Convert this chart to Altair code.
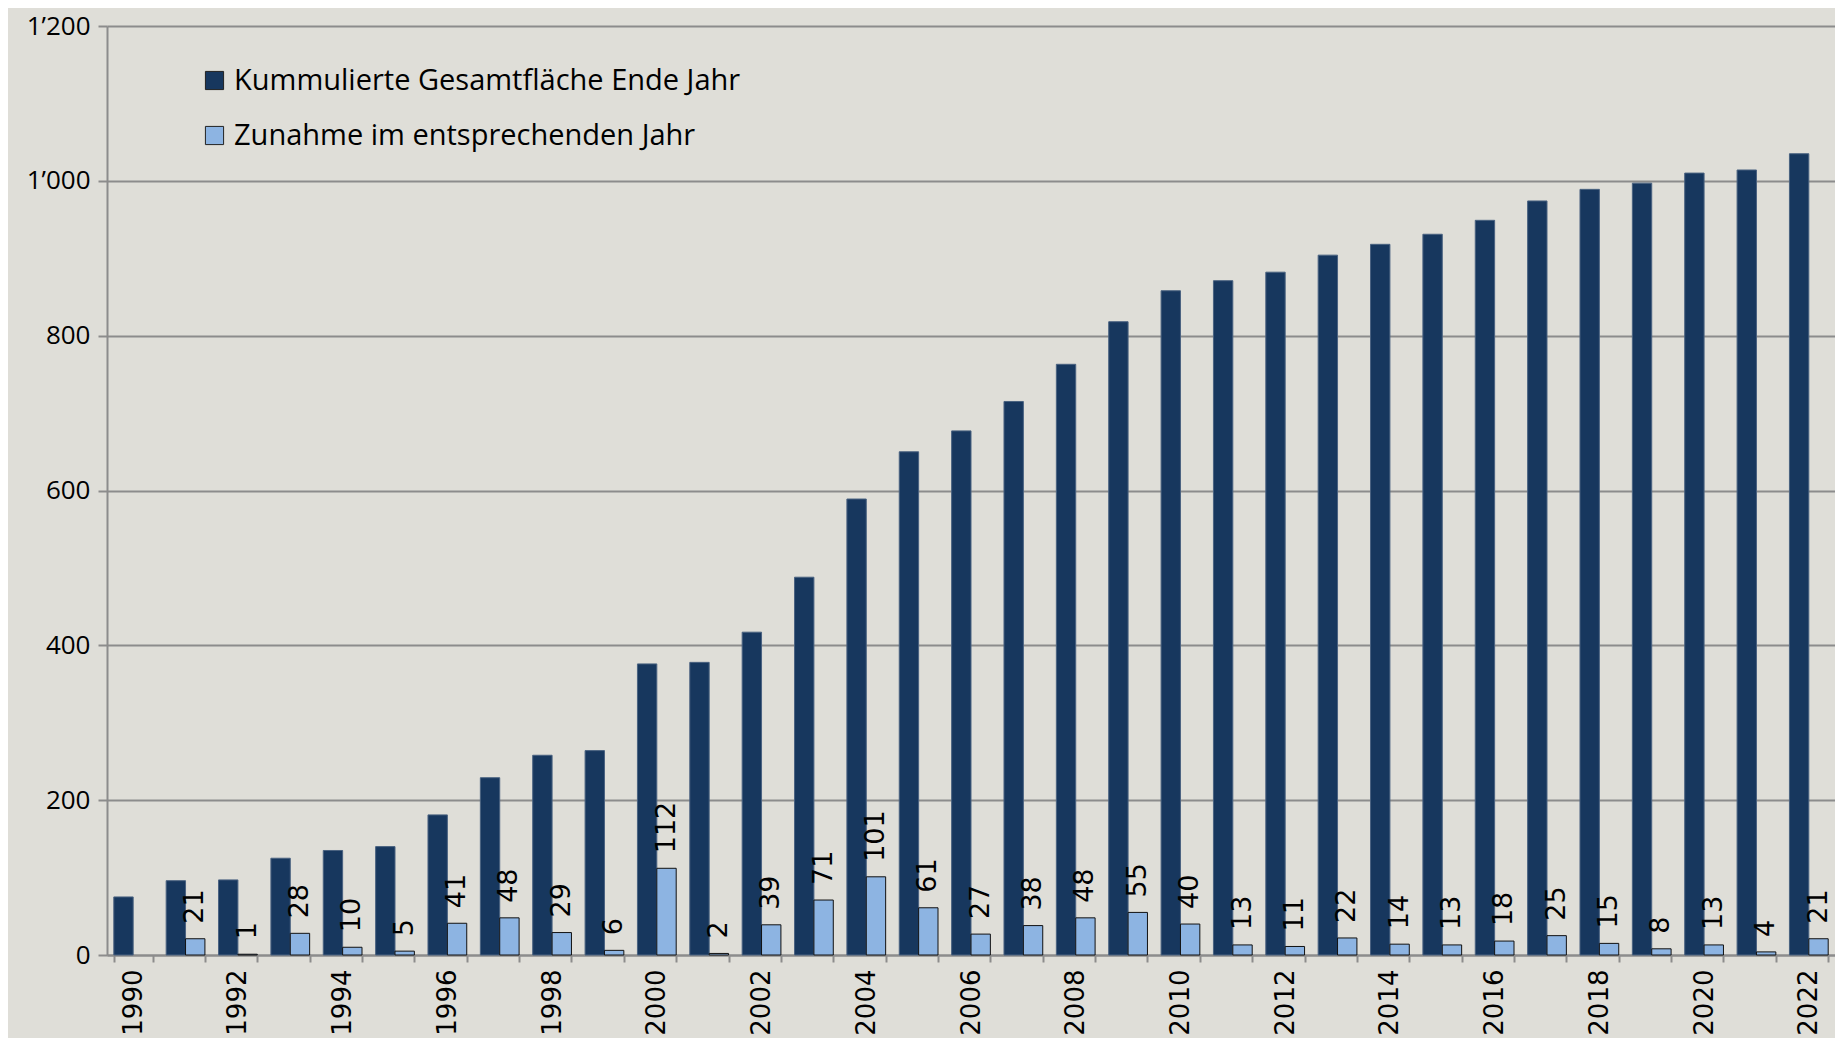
import altair as alt
import pandas as pd

years = list(range(1990, 2023))
cumulative = [75, 96, 97, 125, 135, 140, 181, 229, 258, 264, 376, 378, 417, 488, 589,
              650, 677, 715, 763, 818, 858, 871, 882, 904, 918, 931, 949, 974, 989, 997,
              1010, 1014, 1035]
increase = [None, 21, 1, 28, 10, 5, 41, 48, 29, 6, 112, 2, 39, 71, 101, 61, 27, 38, 48,
            55, 40, 13, 11, 22, 14, 13, 18, 25, 15, 8, 13, 4, 21]

S1 = "Kummulierte Gesamtfläche Ende Jahr"
S2 = "Zunahme im entsprechenden Jahr"

rows = []
for y, c, d in zip(years, cumulative, increase):
    rows.append({"year": y, "series": S1, "value": c})
    if d is not None:
        rows.append({"year": y, "series": S2, "value": d})
df = pd.DataFrame(rows)
df_inc = df[df.series == S2]

LABEL_FONT = "Open Sans"
NUM_FONT = "DejaVu Sans"

x = alt.X("year:O", title=None,
          scale=alt.Scale(paddingInner=0.26, paddingOuter=0.13),
          axis=alt.Axis(labelAngle=270, tickBand="extent",
                        labelExpr="datum.value % 2 == 0 ? datum.label : ''",
                        labelFont=NUM_FONT, labelFontSize=26, labelColor="black",
                        labelPadding=7, tickSize=7, tickColor="#8c8c8c", tickWidth=2,
                        domainColor="#8c8c8c", domainWidth=2, grid=False))
xo = alt.XOffset("series:N", scale=alt.Scale(domain=[S1, S2], paddingInner=0, paddingOuter=0))
y = alt.Y("value:Q", title=None,
          scale=alt.Scale(domain=[0, 1200], nice=False),
          axis=alt.Axis(values=[0, 200, 400, 600, 800, 1000, 1200],
                        labelExpr="datum.value >= 1000 ? floor(datum.value/1000) + '’' + format(datum.value % 1000, '03d') : datum.label",
                        labelFont=LABEL_FONT, labelFontSize=26, labelColor="black",
                        labelPadding=8, tickSize=9, tickColor="#8c8c8c", tickWidth=2,
                        domainColor="#8c8c8c", domainWidth=2,
                        gridColor="#8c8c8c", gridWidth=2))

bars = alt.Chart(df).mark_bar(strokeWidth=1).encode(
    x=x, xOffset=xo, y=y,
    color=alt.Color("series:N", title=None,
                    scale=alt.Scale(domain=[S1, S2], range=["#17375E", "#8DB4E2"]),
                    legend=alt.Legend(orient="none", legendX=93, legendY=40,
                                      symbolType="square", symbolSize=330,
                                      symbolStrokeColor="#222222", symbolStrokeWidth=1,
                                      labelFont=LABEL_FONT, labelFontSize=29,
                                      labelColor="black", rowPadding=25, labelOffset=5,
                                      labelLimit=800)),
    stroke=alt.condition(f"datum.series == '{S2}'", alt.value("#111111"), alt.value("#4a6280")),
)

labels = alt.Chart(df_inc).mark_text(angle=270, align="left", baseline="middle", dx=15,
                                     font=NUM_FONT, fontSize=27, color="black").encode(
    x=x, xOffset=xo, y=y, text="value:Q")

chart = alt.layer(bars, labels).properties(
    width=1728, height=929,
    background="#DFDED8",
    padding={"left": 99, "top": 18, "right": 0, "bottom": 83},
    autosize=alt.AutoSizeParams(type="none"),
).configure_view(stroke=None)

chart.save("out.html", embed_options={"renderer": "svg", "actions": False})
